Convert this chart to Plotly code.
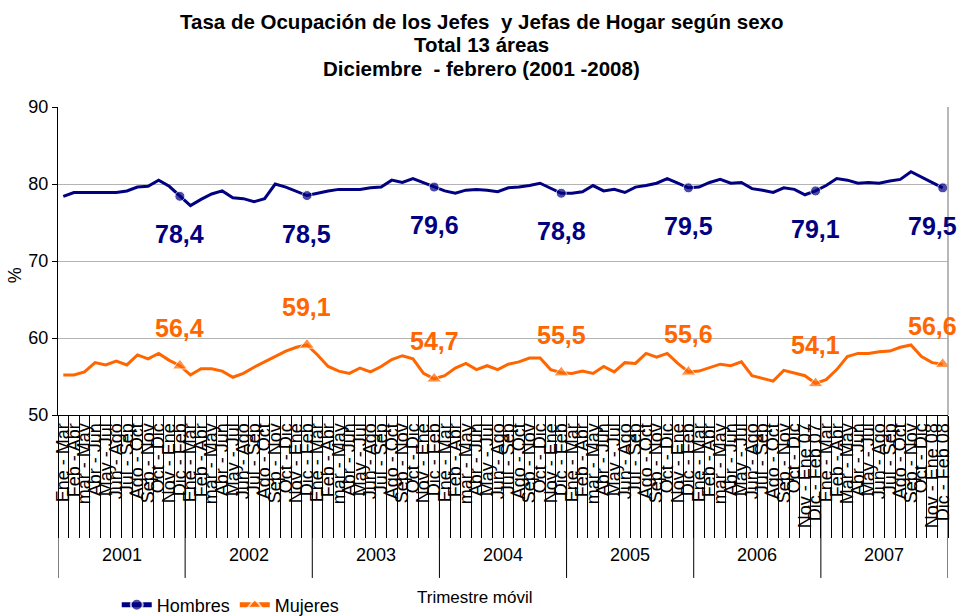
import plotly.graph_objects as go

years = ["2001", "2002", "2003", "2004", "2005", "2006", "2007"]
base_months = ["Ene - Mar", "Feb - Abr", "mar - May", "Abr - Jun", "May - Jul", "Jun - Ago",
               "Jul - Sep", "Ago - Oct", "Sep - Nov", "Oct - Dic", "Nov - Ene", "Dic - Feb"]
months_2006 = base_months[:10] + ["Nov - Ene 07", "Dic - Feb 07"]
months_2007 = ["Ene - Mar", "Feb - Abr", "Mar - May", "Abr - Jun", "May - Jul", "Jun - Ago",
               "Jul - Sep", "Ago - Oct", "Sep - Nov", "Oct - Dic", "Nov - Ene 08", "Dic - Feb 08"]
tick_labels = base_months * 5 + months_2006 + months_2007

hombres = [78.4, 78.9, 78.9, 78.9, 78.9, 78.9, 79.1, 79.6, 79.7, 80.5, 79.7, 78.4,
           77.2, 78.0, 78.7, 79.1, 78.2, 78.1, 77.7, 78.1, 80.0, 79.6, 79.0, 78.5,
           78.8, 79.1, 79.3, 79.3, 79.3, 79.5, 79.6, 80.5, 80.2, 80.7, 80.2, 79.6,
           79.1, 78.8, 79.2, 79.3, 79.2, 79.0, 79.5, 79.6, 79.8, 80.1, 79.4, 78.8,
           78.8, 79.0, 79.8, 79.1, 79.3, 78.9, 79.6, 79.8, 80.1, 80.7, 80.1, 79.5,
           79.6, 80.2, 80.6, 80.1, 80.2, 79.4, 79.2, 78.9, 79.5, 79.3, 78.6, 79.1,
           79.8, 80.7, 80.5, 80.1, 80.2, 80.1, 80.4, 80.6, 81.6, 80.9, 80.3, 79.5]
mujeres = [55.2, 55.2, 55.6, 56.8, 56.5, 57.0, 56.5, 57.8, 57.3, 58.0, 57.1, 56.4,
           55.2, 56.0, 56.0, 55.7, 54.9, 55.4, 56.2, 56.9, 57.6, 58.3, 58.8, 59.1,
           57.8, 56.3, 55.7, 55.4, 56.1, 55.6, 56.3, 57.2, 57.7, 57.3, 55.4, 54.7,
           55.1, 56.1, 56.7, 55.9, 56.4, 55.9, 56.6, 56.9, 57.4, 57.4, 55.9, 55.5,
           55.4, 55.7, 55.4, 56.3, 55.6, 56.8, 56.7, 58.0, 57.5, 58.0, 56.7, 55.6,
           55.7, 56.1, 56.6, 56.4, 56.9, 55.1, 54.7, 54.4, 55.8, 55.4, 55.1, 54.1,
           54.6, 55.9, 57.6, 58.0, 58.0, 58.2, 58.3, 58.8, 59.1, 57.6, 56.8, 56.6]

title_lines = ["Tasa de Ocupación de los Jefes  y Jefas de Hogar según sexo",
               "Total 13 áreas",
               "Diciembre  - febrero (2001 -2008)"]
y_ticks = [50, 60, 70, 80, 90]
FONT = "Liberation Sans, Arial, sans-serif"
NAVY = "#000080"
ORANGE = "#FF6600"

n = len(tick_labels)
xs = list(range(n))
per_year = 12
marker_idx = [per_year * (k + 1) - 1 for k in range(len(years))]
sizes_h = [10 if i in marker_idx else 0 for i in xs]
sizes_m = [13 if i in marker_idx else 0 for i in xs]

fig = go.Figure()
fig.add_trace(go.Scatter(x=xs, y=hombres, name="Hombres", mode="lines+markers",
                         line=dict(color=NAVY, width=3),
                         marker=dict(symbol="circle", size=sizes_h, color=NAVY)))
fig.add_trace(go.Scatter(x=xs, y=mujeres, name="Mujeres", mode="lines+markers",
                         line=dict(color=ORANGE, width=3),
                         marker=dict(symbol="triangle-up", size=sizes_m, color=ORANGE)))

annotations = []
for i in marker_idx:
    xsh = -10 if i == n - 1 else 0
    annotations.append(dict(x=i, y=hombres[i], xref="x", yref="y", showarrow=False,
                            text=f"{hombres[i]:.1f}".replace(".", ","), yshift=-38, xshift=xsh,
                            font=dict(family=FONT, size=25, color=NAVY, weight="bold")))
    annotations.append(dict(x=i, y=mujeres[i], xref="x", yref="y", showarrow=False,
                            text=f"{mujeres[i]:.1f}".replace(".", ","), yshift=38, xshift=xsh,
                            font=dict(family=FONT, size=25, color=ORANGE, weight="bold")))
for k, yr in enumerate(years):
    annotations.append(dict(x=per_year * k + (per_year - 1) / 2, y=-0.4545, xref="x", yref="paper",
                            xanchor="center", yanchor="middle", showarrow=False, text=yr,
                            font=dict(family=FONT, size=18, color="black")))
annotations.append(dict(x=0.4685, y=-0.594, xref="paper", yref="paper", xanchor="center",
                        yanchor="middle", showarrow=False, text="Trimestre móvil",
                        font=dict(family=FONT, size=17, color="black")))
annotations.append(dict(x=-0.048, y=0.4545, xref="paper", yref="paper", xanchor="center",
                        yanchor="middle", showarrow=False, text="%", textangle=-90,
                        font=dict(family=FONT, size=18, color="black")))
for line_text, ypos in zip(title_lines, [1.279, 1.2045, 1.1266]):
    annotations.append(dict(x=(481 - 58) / 890, y=ypos, xref="paper", yref="paper",
                            xanchor="center", yanchor="middle", showarrow=False, text=line_text,
                            font=dict(family=FONT, size=20.5, color="black", weight="bold")))

shapes = []
for k in range(len(years) + 1):
    xv = per_year * k - 0.5
    shapes.append(dict(type="line", xref="x", yref="paper", x0=xv, x1=xv, y0=0, y1=-0.529,
                       line=dict(color="black", width=1)))
shapes.append(dict(type="line", xref="paper", yref="paper", x0=1, x1=1, y0=0, y1=1,
                   line=dict(color="#a0a0a0", width=1.5)))

fig.update_layout(
    width=960, height=616,
    margin=dict(l=58, r=12, t=107, b=201, autoexpand=False),
    paper_bgcolor="white", plot_bgcolor="white",
    font=dict(family=FONT, color="black"),
    showlegend=True,
    legend=dict(orientation="h", x=0.066, y=-0.617, xanchor="left", yanchor="middle",
                font=dict(family=FONT, size=18), itemsizing="constant", bgcolor="rgba(0,0,0,0)"),
    annotations=annotations,
    shapes=shapes,
)
fig.update_xaxes(range=[-0.5, n - 0.5], tickmode="array", tickvals=xs, ticktext=tick_labels,
                 tickangle=-90, tickfont=dict(family=FONT, size=18, color="black"),
                 showgrid=False, zeroline=False, showline=True, linecolor="black", linewidth=1,
                 ticks="", automargin=False,
                 minor=dict(tickmode="array", tickvals=[i - 0.5 for i in range(n + 1)],
                            ticks="outside", ticklen=122, tickcolor="black", tickwidth=1,
                            showgrid=False))
fig.update_yaxes(range=[50, 90], tickmode="array", tickvals=y_ticks, automargin=False,
                 tickfont=dict(family=FONT, size=18, color="black"),
                 showgrid=True, gridcolor="#b4b4b4", gridwidth=1, zeroline=False,
                 showline=True, linecolor="black", linewidth=1, ticks="outside", ticklen=5,
                 tickcolor="black")

fig.write_html("out.html", config={"displayModeBar": False},
               post_script="document.body.style.margin='0';document.body.style.padding='0';")
